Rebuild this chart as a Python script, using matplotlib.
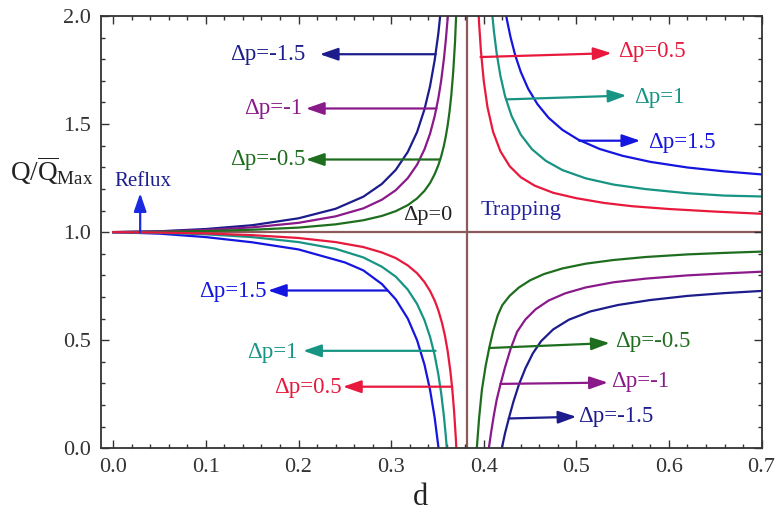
import matplotlib
matplotlib.use('Agg')
import matplotlib.pyplot as plt
from matplotlib.ticker import MultipleLocator

plt.rcParams['font.family'] = ['Liberation Serif', 'DejaVu Serif']
plt.rcParams['mathtext.fontset'] = 'custom'
plt.rcParams['mathtext.rm'] = 'Liberation Serif'
plt.rcParams['mathtext.it'] = 'Liberation Serif:italic'

# ---- data ----
# left branch, above 1 (dp < 0)
d_m15_L = [0, 0.05, 0.10, 0.15, 0.20, 0.24, 0.27, 0.29, 0.305, 0.318, 0.328, 0.336, 0.342, 0.347, 0.351, 0.355]
q_m15_L = [1.0, 1.004, 1.0145, 1.032, 1.064, 1.108, 1.164, 1.223, 1.288, 1.371, 1.463, 1.568, 1.675, 1.795, 1.92, 2.085]
d_m1_L = [0, 0.05, 0.10, 0.15, 0.20, 0.24, 0.27, 0.29, 0.305, 0.318, 0.328, 0.336, 0.342, 0.347, 0.351,
          0.354, 0.357, 0.359, 0.361, 0.363]
q_m1_L = [1.0, 1.003, 1.01, 1.022, 1.043, 1.073, 1.11, 1.15, 1.194, 1.25, 1.312, 1.383, 1.455, 1.536, 1.62,
          1.70, 1.802, 1.886, 1.9875, 2.113]
d_m05_L = [0, 0.05, 0.10, 0.15, 0.20, 0.24, 0.27, 0.29, 0.305, 0.318, 0.328, 0.336, 0.342, 0.347, 0.351,
           0.354, 0.357, 0.359, 0.361, 0.363, 0.365, 0.367, 0.369, 0.371]
q_m05_L = [1.0, 1.0015, 1.005, 1.011, 1.021, 1.036, 1.055, 1.075, 1.097, 1.125, 1.156, 1.191, 1.227, 1.268, 1.31,
           1.35, 1.40, 1.4425, 1.493, 1.556, 1.635, 1.739, 1.88, 2.085]

# left branch, below 1 (dp > 0)
d_15_L = [0, 0.05, 0.10, 0.15, 0.20, 0.25, 0.27, 0.29, 0.305, 0.318, 0.328, 0.336, 0.342, 0.347, 0.351, 0.353]
q_15_L = [1.0, 0.993, 0.977, 0.953, 0.92, 0.86, 0.823, 0.76, 0.689, 0.60, 0.50, 0.387, 0.271, 0.142, 0.007, -0.076]
d_1_L = [0, 0.05, 0.10, 0.15, 0.20, 0.24, 0.27, 0.29, 0.305, 0.318, 0.328, 0.336, 0.342, 0.347, 0.351,
         0.354, 0.357, 0.359, 0.361]
q_1_L = [1.0, 0.997, 0.99, 0.977, 0.954, 0.923, 0.883, 0.84, 0.794, 0.734, 0.668, 0.593, 0.516, 0.431, 0.341,
         0.256, 0.148, 0.059, -0.049]
d_05_L = [0, 0.05, 0.10, 0.15, 0.20, 0.24, 0.27, 0.29, 0.305, 0.318, 0.328, 0.336, 0.342, 0.347, 0.351,
          0.355, 0.358, 0.361, 0.364, 0.366, 0.368, 0.370, 0.371]
q_05_L = [1.0, 0.998, 0.994, 0.986, 0.973, 0.954, 0.931, 0.906, 0.88, 0.846, 0.81, 0.769, 0.728, 0.684, 0.638,
          0.579, 0.523, 0.451, 0.356, 0.275, 0.171, 0.036, -0.049]

# right branch, above 1 (dp > 0)
d_05_R = [0.3935, 0.395, 0.397, 0.400, 0.404, 0.410, 0.418, 0.428, 0.440, 0.455, 0.475, 0.500, 0.530, 0.560,
          0.600, 0.650, 0.700]
q_05_R = [2.09, 1.965, 1.836, 1.70, 1.579, 1.465, 1.374, 1.305, 1.254, 1.215, 1.182, 1.157, 1.135, 1.12,
          1.107, 1.095, 1.085]
d_1_R = [0.4075, 0.409, 0.411, 0.414, 0.418, 0.423, 0.430, 0.440, 0.452, 0.467, 0.485, 0.510, 0.540, 0.575,
         0.620, 0.660, 0.700]
q_1_R = [2.094, 2.016, 1.929, 1.826, 1.723, 1.629, 1.538, 1.451, 1.384, 1.33, 1.287, 1.249, 1.22, 1.199,
         1.18, 1.169, 1.165]
d_15_R = [0.4225, 0.425, 0.429, 0.434, 0.440, 0.448, 0.458, 0.470, 0.485, 0.502, 0.525, 0.550, 0.580, 0.620,
          0.660, 0.700]
q_15_R = [2.046, 1.983, 1.901, 1.818, 1.741, 1.663, 1.592, 1.529, 1.473, 1.428, 1.385, 1.353, 1.325, 1.299,
          1.281, 1.267]

# right branch, below 1 (dp < 0)
d_m05_R = [0.3925, 0.395, 0.398, 0.402, 0.406, 0.410, 0.415, 0.420, 0.428, 0.438, 0.450, 0.465, 0.485, 0.510,
           0.540, 0.575, 0.620, 0.660, 0.700]
q_m05_R = [0.0, 0.14, 0.27, 0.38, 0.466, 0.54, 0.614, 0.662, 0.7055, 0.744, 0.777, 0.806, 0.832, 0.854,
           0.871, 0.885, 0.897, 0.904, 0.91]
d_m1_R = [0.4055, 0.408, 0.411, 0.414, 0.418, 0.423, 0.429, 0.436, 0.445, 0.456, 0.470, 0.488, 0.510, 0.540,
          0.575, 0.620, 0.660, 0.700]
q_m1_R = [0.0, 0.075, 0.155, 0.225, 0.295, 0.375, 0.46, 0.539, 0.596, 0.643, 0.6835, 0.717, 0.744, 0.768,
          0.785, 0.80, 0.809, 0.817]
d_m15_R = [0.4195, 0.423, 0.4275, 0.432, 0.438, 0.445, 0.453, 0.462, 0.475, 0.492, 0.515, 0.545, 0.580, 0.620,
           0.660, 0.700]
q_m15_R = [0.0, 0.07, 0.145, 0.215, 0.295, 0.37, 0.439, 0.496, 0.55, 0.595, 0.633, 0.663, 0.686, 0.705,
           0.718, 0.728]

# dp = 0 line and the singular d
d_dp0 = [0.0, 0.7]
q_dp0 = [1.0, 1.0]
d_sing = 0.382

x_ticks = [0.0, 0.1, 0.2, 0.3, 0.4, 0.5, 0.6, 0.7]
y_ticks = [0.0, 0.5, 1.0, 1.5, 2.0]

# colours
navy = '#1c1c8c'
purple = '#8a1a8a'
green = '#1f6e1f'
red = '#e8193c'
teal = '#179483'
blue = '#1515e0'
brown = '#8c5a5a'

curves = [
    (d_m15_L, q_m15_L, navy), (d_m1_L, q_m1_L, purple), (d_m05_L, q_m05_L, green),
    (d_15_L, q_15_L, blue), (d_1_L, q_1_L, teal), (d_05_L, q_05_L, red),
    (d_05_R, q_05_R, red), (d_1_R, q_1_R, teal), (d_15_R, q_15_R, blue),
    (d_m05_R, q_m05_R, green), (d_m1_R, q_m1_R, purple), (d_m15_R, q_m15_R, navy),
]

# label, colour, arrow tail, arrow head, text position, alignment
notes = [
    ('\u0394p=-1.5', navy, (0.348, 1.823), (0.223, 1.823), (0.207, 1.823), 'right'),
    ('\u0394p=-1', purple, (0.349, 1.572), (0.208, 1.572), (0.204, 1.572), 'right'),
    ('\u0394p=-0.5', green, (0.353, 1.336), (0.208, 1.336), (0.207, 1.336), 'right'),
    ('\u0394p=1.5', blue, (0.296, 0.730), (0.167, 0.730), (0.166, 0.725), 'right'),
    ('\u0394p=1', teal, (0.348, 0.451), (0.205, 0.451), (0.199, 0.445), 'right'),
    ('\u0394p=0.5', red, (0.366, 0.285), (0.248, 0.285), (0.247, 0.280), 'right'),
    ('\u0394p=0.5', red, (0.3965, 1.810), (0.538, 1.828), (0.545, 1.835), 'left'),
    ('\u0394p=1', teal, (0.424, 1.614), (0.554, 1.632), (0.562, 1.625), 'left'),
    ('\u0394p=1.5', blue, (0.503, 1.423), (0.569, 1.423), (0.578, 1.415), 'left'),
    ('\u0394p=-0.5', green, (0.406, 0.464), (0.536, 0.487), (0.542, 0.492), 'left'),
    ('\u0394p=-1', purple, (0.418, 0.298), (0.534, 0.304), (0.538, 0.308), 'left'),
    ('\u0394p=-1.5', navy, (0.427, 0.138), (0.500, 0.146), (0.502, 0.148), 'left'),
]

arrow_style = '-|>,head_length=1.1,head_width=0.38'

fig = plt.figure(figsize=(7.79, 5.15), dpi=100)
ax = fig.add_axes([0.1293, 0.1295, 0.8489, 0.8395])

ax.plot(d_dp0, q_dp0, color=brown, lw=1.6, zorder=1)
ax.plot([d_sing, d_sing], [0, 2], color=brown, lw=1.6, zorder=1)

for xs, ys, c in curves:
    ax.plot(xs, ys, color=c, lw=1.6, zorder=2, solid_joinstyle='round')

for label, c, tail, head, txy, ha in notes:
    ax.annotate('', xy=head, xytext=tail,
                arrowprops=dict(arrowstyle=arrow_style, color=c, lw=1.6, shrinkA=0, shrinkB=0))
    ax.text(txy[0], txy[1], label, color=c, ha=ha, va='center', fontsize=16.5)

# reflux / trapping / dp=0 notes
ax.annotate('', xy=(0.029, 1.18), xytext=(0.029, 1.0),
            arrowprops=dict(arrowstyle=arrow_style, color='#1a2ae0', lw=1.6, shrinkA=0, shrinkB=0))
ax.text(0.032, 1.235, 'Reflux', color=navy, ha='center', va='center', fontsize=15)
ax.text(0.397, 1.10, 'Trapping', color='#2222a0', ha='left', va='center', fontsize=16)
ax.text(0.313, 1.075, '\u0394p=0', color='#222222', ha='left', va='center', fontsize=16)

ax.set_xlim(-0.0136, 0.7005)
ax.set_ylim(0, 2.0)
ax.set_xticks(x_ticks)
ax.set_xticklabels(['%.1f' % t for t in x_ticks])
ax.set_yticks(y_ticks)
ax.set_yticklabels(['%.1f' % t for t in y_ticks])
ax.xaxis.set_minor_locator(MultipleLocator(0.02))
ax.yaxis.set_minor_locator(MultipleLocator(0.1))
ax.tick_params(which='both', direction='in', top=True, right=True,
               colors='#333333', labelsize=16, width=1.0)
ax.tick_params(which='major', length=6, pad=7)
ax.tick_params(which='minor', length=3)
for s in ax.spines.values():
    s.set_color('#333333')
    s.set_linewidth(1.3)

fig.text(10 / 779, 0.668, r'Q/$\overline{\mathrm{Q}}_{\mathrm{Max}}$',
         fontsize=19.5, ha='left', va='center', color='#222222')
fig.text(420 / 779, 0.02, 'd', fontsize=22, ha='center', va='baseline', color='#222222')

fig.savefig('out.png', dpi=100)
